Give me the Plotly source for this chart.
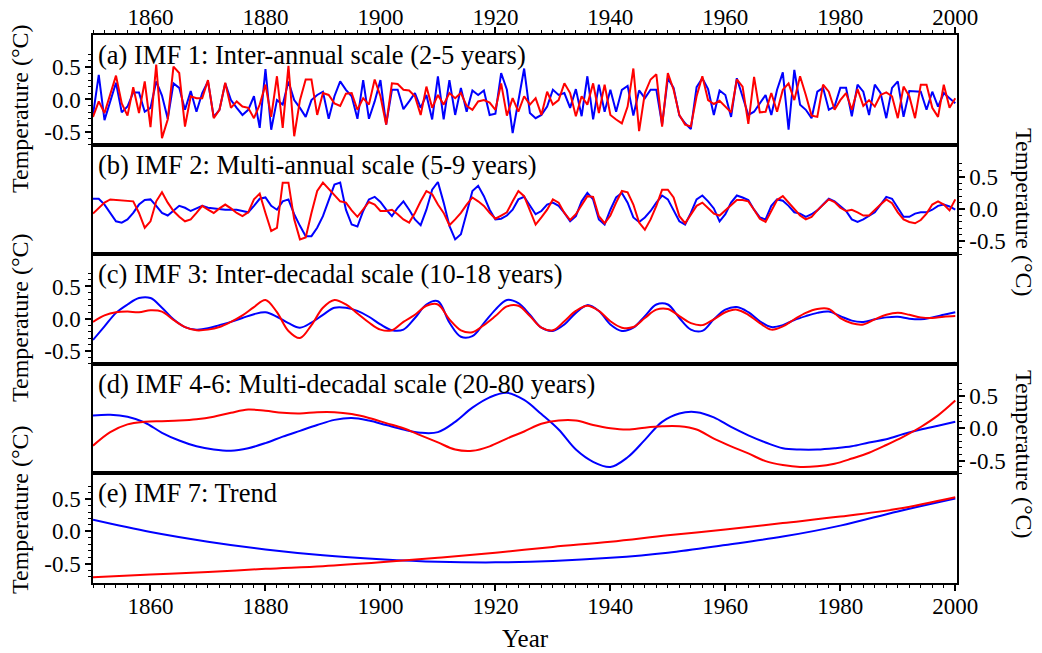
import plotly.graph_objects as go
from plotly.subplots import make_subplots

# ---------------- data (°C) ----------------
years_annual = list(range(1850, 2001))
years_imf3 = list(range(1850, 2001, 2))
years_imf46 = list(range(1850, 2001, 3))
years_trend = list(range(1850, 2001, 10))

imf1_blue = [
    -0.24, 0.38, -0.32, -0.03, 0.26, -0.20, -0.11, 0.11, 0.11, -0.19,
    -0.13, 0.28, 0.06, -0.30, 0.25, 0.18, -0.16, 0.13, -0.19, 0.10,
    0.28, -0.27, -0.16, 0.25, -0.01, -0.13, -0.24, -0.16, 0.05, -0.44,
    0.47, -0.47, -0.01, -0.08, 0.28, -0.01, -0.13, -0.27, -0.01, 0.07,
    0.12, -0.30, 0.05, 0.28, 0.15, 0.05, -0.30, 0.30, -0.30, -0.03,
    0.30, -0.39, 0.15, 0.15, -0.15, -0.03, 0.10, -0.13, 0.07, -0.31,
    0.36, -0.31, 0.30, -0.24, 0.18, -0.19, 0.14, 0.07, 0.14, -0.24,
    -0.22, 0.41, 0.15, -0.52, 0.00, 0.48, -0.21, -0.29, -0.24, -0.11,
    0.15, 0.07, 0.10, -0.13, 0.16, -0.26, 0.36, -0.31, 0.23, -0.19,
    0.15, -0.19, 0.15, 0.21, -0.25, 0.14, 0.02, 0.15, 0.15, -0.39,
    0.33, 0.18, -0.25, -0.37, -0.46, 0.19, 0.33, 0.16, -0.24, 0.14,
    0.07, -0.27, 0.33, 0.05, -0.24, -0.19, -0.06, 0.07, -0.24, 0.15,
    0.42, -0.47, 0.46, -0.08, -0.16, -0.29, 0.12, 0.18, -0.16, -0.11,
    0.18, 0.18, -0.26, 0.23, 0.12, -0.24, 0.23, 0.10, -0.29, 0.18,
    0.28, -0.27, 0.13, 0.13, 0.12, -0.16, 0.12, -0.11, 0.10, 0.02,
    -0.06,
]
imf1_red = [
    -0.27, -0.03, -0.21, 0.07, 0.37, -0.06, -0.25, 0.19, -0.21, 0.28,
    -0.43, 0.54, -0.60, -0.31, 0.51, 0.41, -0.42, 0.05, 0.02, 0.02,
    0.30, -0.29, -0.16, 0.26, -0.13, -0.03, -0.11, -0.13, -0.29, -0.08,
    0.23, -0.27, 0.36, -0.44, 0.52, -0.57, -0.01, 0.31, 0.31, -0.24,
    0.10, 0.07, -0.06, -0.10, 0.09, 0.10, -0.16, 0.02, -0.08, 0.31,
    0.05, -0.39, 0.25, 0.24, 0.15, 0.14, 0.05, -0.24, 0.20, -0.13,
    0.07, -0.08, 0.10, 0.02, 0.10, -0.10, -0.16, -0.03, -0.01, -0.05,
    -0.16, 0.25, -0.25, 0.02, -0.19, 0.05, -0.08, 0.02, -0.24, 0.12,
    -0.08, -0.01, 0.25, 0.10, -0.26, 0.05, -0.08, 0.25, -0.21, 0.23,
    -0.24, -0.31, -0.37, -0.11, 0.48, -0.49, 0.10, 0.31, 0.39, -0.42,
    0.41, 0.15, -0.24, -0.39, -0.42, 0.05, 0.36, -0.01, -0.07, -0.02,
    -0.11, -0.20, 0.31, 0.20, -0.38, 0.35, -0.20, -0.19, 0.10, -0.19,
    0.15, 0.25, -0.01, 0.36, 0.07, -0.25, -0.27, 0.23, 0.12, -0.16,
    -0.01, 0.10, -0.16, 0.16, -0.10, -0.01, -0.11, 0.07, 0.11, 0.05,
    -0.29, 0.20, 0.05, -0.29, 0.23, 0.23, -0.13, -0.27, 0.23, -0.13,
    0.02,
]
imf2_blue = [
    0.16, 0.16, 0.07, -0.06, -0.19, -0.21, -0.16, -0.06, 0.07, 0.14,
    0.15, 0.05, -0.06, -0.10, -0.02, 0.05, 0.02, -0.03, 0.01, 0.05,
    0.02, 0.01, -0.01, -0.01, -0.01, -0.01, -0.03, -0.05, 0.05, 0.16,
    0.18, 0.05, -0.01, 0.12, 0.15, -0.08, -0.26, -0.42, -0.42, -0.29,
    -0.11, 0.15, 0.38, 0.41, -0.01, -0.24, -0.27, -0.03, 0.15, 0.19,
    0.11, -0.01, -0.11, 0.02, 0.12, -0.01, -0.16, -0.25, -0.01, 0.30,
    0.42, 0.10, -0.26, -0.47, -0.39, -0.06, 0.28, 0.36, 0.20, -0.01,
    -0.16, -0.15, -0.10, -0.01, 0.15, 0.19, 0.06, -0.08, -0.03, 0.07,
    0.10, 0.05, -0.06, -0.19, -0.11, 0.12, 0.25, 0.15, -0.16, -0.24,
    -0.01, 0.18, 0.25, 0.10, -0.13, -0.20, -0.13, -0.03, 0.10, 0.21,
    0.15, -0.01, -0.19, -0.24, -0.06, 0.15, 0.21, 0.12, 0.01, -0.19,
    -0.08, 0.10, 0.21, 0.18, 0.14, -0.01, -0.13, -0.16, 0.05, 0.15,
    0.13, 0.05, -0.05, -0.07, -0.12, -0.08, -0.02, 0.07, 0.16, 0.12,
    0.05, -0.03, -0.16, -0.20, -0.16, -0.11, -0.05, 0.07, 0.19, 0.16,
    0.02, -0.12, -0.12, -0.07, -0.05, -0.05, -0.01, 0.05, 0.07, 0.04,
    -0.01,
]
imf2_red = [
    -0.07, 0.02, 0.10, 0.15, 0.14, 0.13, 0.13, 0.12, -0.06, -0.29,
    -0.19, 0.12, 0.26, 0.10, -0.03, -0.12, -0.19, -0.16, -0.06, 0.05,
    -0.01, -0.06, 0.01, 0.07, 0.01, -0.06, -0.11, -0.05, 0.15, 0.24,
    -0.06, -0.34, -0.29, 0.41, 0.41, -0.16, -0.47, -0.44, -0.06, 0.28,
    0.41, 0.31, 0.21, 0.12, 0.10, -0.02, -0.12, -0.01, 0.11, 0.07,
    -0.03, -0.03, -0.01, -0.08, -0.16, -0.21, -0.06, 0.12, 0.28, 0.23,
    0.07, -0.06, -0.25, -0.16, -0.06, 0.07, 0.18, 0.12, 0.05, -0.06,
    -0.15, -0.10, -0.05, 0.12, 0.28, 0.20, -0.03, -0.24, -0.13, -0.01,
    0.15, 0.10, -0.06, -0.17, -0.08, 0.07, 0.20, 0.19, -0.11, -0.22,
    -0.10, 0.10, 0.28, 0.26, 0.07, -0.21, -0.32, -0.16, 0.05, 0.30,
    0.30, 0.18, -0.11, -0.22, -0.08, 0.05, 0.10, 0.02, -0.07, -0.10,
    -0.02, 0.06, 0.14, 0.14, 0.12, -0.01, -0.15, -0.20, -0.03, 0.14,
    0.20, 0.10, -0.01, -0.10, -0.16, -0.12, -0.02, 0.07, 0.15, 0.11,
    0.02, -0.03, -0.01, -0.05, -0.10, -0.10, -0.01, 0.07, 0.15, 0.09,
    -0.05, -0.16, -0.20, -0.22, -0.17, -0.07, 0.07, 0.12, 0.07, -0.02,
    0.15,
]
imf3_blue = [
    -0.33, -0.12, 0.09, 0.22, 0.32, 0.32, 0.17, -0.01, -0.13, -0.17,
    -0.15, -0.10, -0.05, 0.01, 0.07, 0.10, 0.03, -0.07, -0.14, -0.06,
    0.06, 0.17, 0.17, 0.12, 0.03, -0.09, -0.18, -0.17, 0.01, 0.22,
    0.27, -0.06, -0.28, -0.27, -0.07, 0.14, 0.29, 0.24, 0.06, -0.14,
    -0.19, -0.09, 0.09, 0.21, 0.12, -0.09, -0.19, -0.14, 0.04, 0.22,
    0.22, 0.01, -0.17, -0.19, -0.01, 0.14, 0.18, 0.10, -0.04, -0.13,
    -0.10, -0.02, 0.04, 0.09, 0.11, 0.04, -0.03, -0.05, -0.01, 0.02,
    0.03, 0.00, -0.01, 0.02, 0.06, 0.10,
]
imf3_red = [
    -0.05, 0.05, 0.10, 0.11, 0.10, 0.13, 0.11, -0.02, -0.13, -0.18,
    -0.17, -0.13, -0.05, 0.05, 0.18, 0.29, 0.10, -0.19, -0.30, -0.10,
    0.17, 0.29, 0.22, 0.08, -0.06, -0.17, -0.18, -0.05, 0.06, 0.20,
    0.22, -0.01, -0.18, -0.21, -0.10, 0.04, 0.19, 0.20, 0.04, -0.14,
    -0.18, -0.04, 0.12, 0.20, 0.12, -0.04, -0.14, -0.13, 0.01, 0.14,
    0.15, 0.04, -0.07, -0.10, -0.01, 0.10, 0.14, 0.06, -0.07, -0.17,
    -0.12, -0.01, 0.09, 0.15, 0.15, 0.01, -0.07, -0.09, -0.01, 0.06,
    0.09, 0.06, 0.02, 0.01, 0.03, 0.04,
]
imf46_blue = [
    0.20, 0.21, 0.18, 0.09, -0.07, -0.19, -0.28, -0.33, -0.35, -0.31,
    -0.23, -0.13, -0.04, 0.05, 0.13, 0.16, 0.12, 0.05, -0.02, -0.07,
    -0.06, 0.10, 0.32, 0.48, 0.55, 0.44, 0.22, -0.02, -0.33, -0.52,
    -0.60, -0.45, -0.18, 0.10, 0.23, 0.25, 0.17, 0.02, -0.11, -0.22,
    -0.31, -0.33, -0.33, -0.31, -0.28, -0.22, -0.17, -0.09, -0.02, 0.04,
    0.10,
]
imf46_red = [
    -0.27, -0.06, 0.06, 0.10, 0.11, 0.12, 0.14, 0.18, 0.24, 0.29,
    0.27, 0.24, 0.23, 0.25, 0.25, 0.22, 0.16, 0.08, 0.00, -0.11,
    -0.22, -0.33, -0.35, -0.28, -0.16, -0.05, 0.07, 0.12, 0.12, 0.05,
    0.00, -0.02, 0.01, 0.03, 0.03, -0.02, -0.16, -0.28, -0.39, -0.51,
    -0.57, -0.60, -0.59, -0.55, -0.47, -0.38, -0.26, -0.13, 0.02, 0.20,
    0.43,
]
trend_blue = [0.18, -0.01, -0.16, -0.28, -0.37, -0.43, -0.47, -0.48,
              -0.46, -0.41, -0.33, -0.21, -0.08, 0.09, 0.31, 0.51]
trend_red = [-0.71, -0.67, -0.63, -0.58, -0.54, -0.48, -0.41, -0.33,
             -0.24, -0.16, -0.06, 0.03, 0.13, 0.23, 0.35, 0.53]

panel_titles = [
    "(a) IMF 1: Inter-annual scale (2-5 years)",
    "(b) IMF 2: Multi-annual scale (5-9 years)",
    "(c) IMF 3: Inter-decadal scale (10-18 years)",
    "(d) IMF 4-6: Multi-decadal scale (20-80 years)",
    "(e) IMF 7: Trend",
]
ytick_vals = [-0.5, 0.0, 0.5]
ytick_text = ["-0.5", "0.0", "0.5"]

# ---------------- figure ----------------
W, H = 1042, 653
ML, MR, MT, MB = 93, 85, 35, 70
PW, PH = W - ML - MR, H - MT - MB
FONT = "Liberation Serif"
BLUE = "#0000ff"
RED = "#ff0000"

fig = make_subplots(rows=5, cols=1, vertical_spacing=0)

series = [
    (years_annual, imf1_blue, imf1_red, "linear"),
    (years_annual, imf2_blue, imf2_red, "linear"),
    (years_imf3, imf3_blue, imf3_red, "spline"),
    (years_imf46, imf46_blue, imf46_red, "spline"),
    (years_trend, trend_blue, trend_red, "spline"),
]
for i, (xs, b, r, shape) in enumerate(series, start=1):
    fig.add_trace(go.Scatter(x=xs, y=b, mode="lines",
                             line=dict(color=BLUE, width=2, shape=shape),
                             showlegend=False, hoverinfo="skip"), row=i, col=1)
    fig.add_trace(go.Scatter(x=xs, y=r, mode="lines",
                             line=dict(color=RED, width=2, shape=shape),
                             showlegend=False, hoverinfo="skip"), row=i, col=1)

minor_y = [round(-0.7 + 0.1 * k, 1) for k in range(15)]
minor_y = [v for v in minor_y if v not in (-0.5, 0.0, 0.5)]

TICKFONT = dict(family=FONT, size=23, color="black")

for i in range(1, 6):
    xa = dict(range=[1850, 2000.3], showline=True, linecolor="black",
              linewidth=1.5, mirror=True, showgrid=False, zeroline=False,
              automargin=False, tickfont=TICKFONT)
    if i == 1 or i == 5:
        xa.update(side="top" if i == 1 else "bottom", ticks="outside",
                  tickmode="linear", tick0=1860, dtick=20, ticklen=6,
                  tickwidth=1.5, tickcolor="black", showticklabels=True,
                  ticklabelstandoff=-7 if i == 1 else -4,
                  minor=dict(ticks="outside", tickmode="linear", tick0=1850,
                             dtick=2, ticklen=3, tickwidth=1,
                             tickcolor="black"))
    else:
        xa.update(ticks="", showticklabels=False)
    fig.update_xaxes(row=i, col=1, **xa)

    yr = [-0.8, 0.9] if i == 5 else [-0.7, 1.0]
    fig.update_yaxes(row=i, col=1, range=yr, side="left" if i % 2 == 1 else "right",
                     tickmode="array", tickvals=ytick_vals, ticktext=ytick_text,
                     ticks="outside", ticklen=6, tickwidth=1.5, tickcolor="black",
                     showline=True, linecolor="black", linewidth=1.5, mirror=True,
                     showgrid=False, zeroline=False, automargin=False,
                     tickfont=TICKFONT,
                     minor=dict(ticks="outside", tickmode="array", tickvals=minor_y,
                                ticklen=3, tickwidth=1, tickcolor="black"))


def px_x(p):
    return (p - ML) / PW


def px_y(p):
    return (MT + PH - p) / PH


annotations = []
panel_h = PH / 5
for k, t in enumerate(panel_titles):
    top = MT + k * panel_h
    annotations.append(dict(text=t, x=px_x(96), y=px_y(top + 20), xref="paper",
                            yref="paper", xanchor="left", yanchor="middle",
                            showarrow=False,
                            font=dict(family=FONT, size=26.5, color="black")))

ytitle_centers = [109, 212, 318, 454, 510]
for k, cy in enumerate(ytitle_centers):
    left = (k % 2 == 0)
    annotations.append(dict(text="Temperature (°C)",
                            x=px_x(20 if left else 1024), y=px_y(cy),
                            xref="paper", yref="paper", xanchor="center",
                            yanchor="middle", showarrow=False,
                            textangle=-90 if left else 90,
                            font=dict(family=FONT, size=24, color="black")))

annotations.append(dict(text="Year", x=px_x(525), y=px_y(638), xref="paper",
                        yref="paper", xanchor="center", yanchor="middle",
                        showarrow=False,
                        font=dict(family=FONT, size=25, color="black")))

fig.update_layout(width=W, height=H,
                  margin=dict(l=ML, r=MR, t=MT, b=MB, pad=0, autoexpand=False),
                  paper_bgcolor="white", plot_bgcolor="white",
                  annotations=annotations, showlegend=False)

fig.write_html("out.html", config={"displayModeBar": False},
               post_script="document.body.style.margin='0';"
                           "document.body.style.overflow='hidden';")
